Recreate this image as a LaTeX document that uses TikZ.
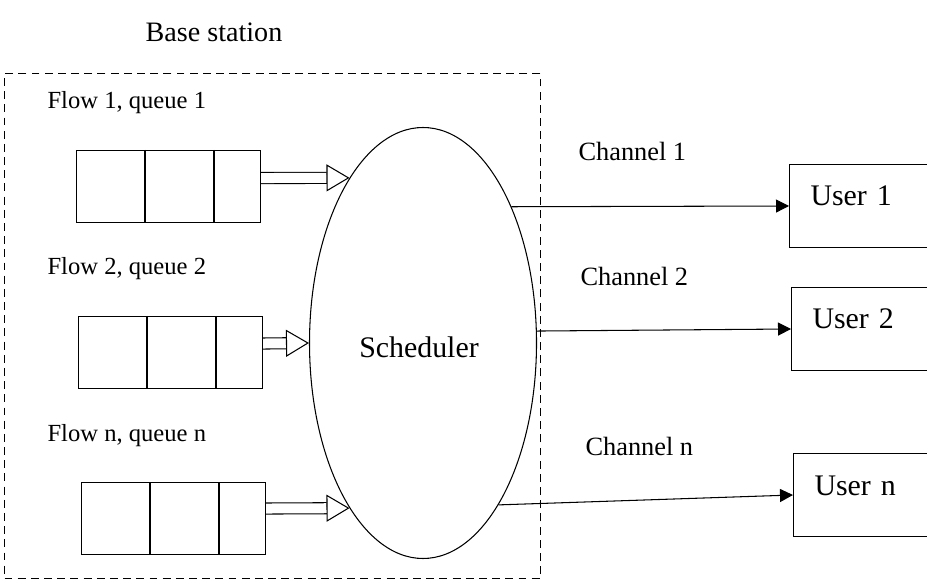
\documentclass[tikz,border=0pt]{standalone}
\usepackage{fontspec}
\setmainfont{Liberation Serif}
\usetikzlibrary{arrows.meta, shapes.geometric}

\tikzset{
  queue/.style={draw, rectangle, anchor=north west, minimum width=3.68cm,
                minimum height=1.44cm, inner sep=0pt},
  user/.style={draw, rectangle, anchor=west, minimum height=1.66cm,
               text width=2.2cm, inner xsep=0.42cm, text height=0.45cm,
               text depth=0.45cm, align=left, font=\fontsize{17}{20}\selectfont},
  lbl/.style={anchor=base west, inner sep=0pt, font=\fontsize{15}{18}\selectfont},
  feed/.style={double, double distance=0.2cm,
               -{Triangle[open, length=0.46cm, width=0.54cm]}},
  chan/.style={-{Triangle[length=0.26cm, width=0.26cm]}},
}

\begin{document}
\begin{tikzpicture}[line width=0.6pt]
\useasboundingbox (0,0) rectangle (18.54,11.72);

% base station frame
\node[draw, dashed, dash pattern=on 4.5pt off 3pt, anchor=south west,
      minimum width=10.72cm, minimum height=10.1cm, inner sep=0pt] (bs) at (0.08,0.14) {};
\node[anchor=base, inner sep=0pt, font=\fontsize{16}{19}\selectfont] (bstxt) at (4.28,10.88) {Base station};

% queues
\node[lbl, font=\fontsize{14}{17}\selectfont] (f1) at (0.94,9.54) {Flow 1, queue 1};
\node[lbl, font=\fontsize{14}{17}\selectfont] (f2) at (0.94,6.22) {Flow 2, queue 2};
\node[lbl, font=\fontsize{14}{17}\selectfont] (fn) at (0.94,2.88) {Flow n, queue n};

\node[queue] (q1) at (1.52,8.72) {};
\node[queue] (q2) at (1.56,5.40) {};
\node[queue] (qn) at (1.62,2.08) {};

\foreach \q in {q1,q2,qn}
  \foreach \d in {1.38,2.76}
    \draw ([xshift=\d cm]\q.north west) -- ([xshift=\d cm]\q.south west);

% scheduler
\node[ellipse, draw, minimum width=4.54cm, minimum height=8.62cm, inner sep=0pt] (sched) at (8.46,4.86) {};
\node[anchor=base, inner sep=0pt, font=\fontsize{17}{20}\selectfont] (stxt) at (8.38,4.56) {Scheduler};

\draw[feed] ([yshift=0.17cm]q1.east) -- (sched.114);
\draw[feed] ([yshift=0.18cm]q2.east) -- (sched.west);
\draw[feed] ([yshift=0.20cm]qn.east) -- (sched.246);

% users
\node[user] (u1) at (15.78,7.60) {User 1};
\node[user] (u2) at (15.82,5.14) {User 2};
\node[user] (un) at (15.86,1.82) {User n};

\node[lbl] (c1) at (11.56,8.50) {Channel 1};
\node[lbl] (c2) at (11.60,6.00) {Channel 2};
\node[lbl] (cn) at (11.70,2.62) {Channel n};

\draw[chan] (sched.57) -- (u1.west);
\draw[chan] (sched.6) -- (u2.west);
\draw[chan] (sched.-65) -- (un.west);
\end{tikzpicture}
\end{document}
